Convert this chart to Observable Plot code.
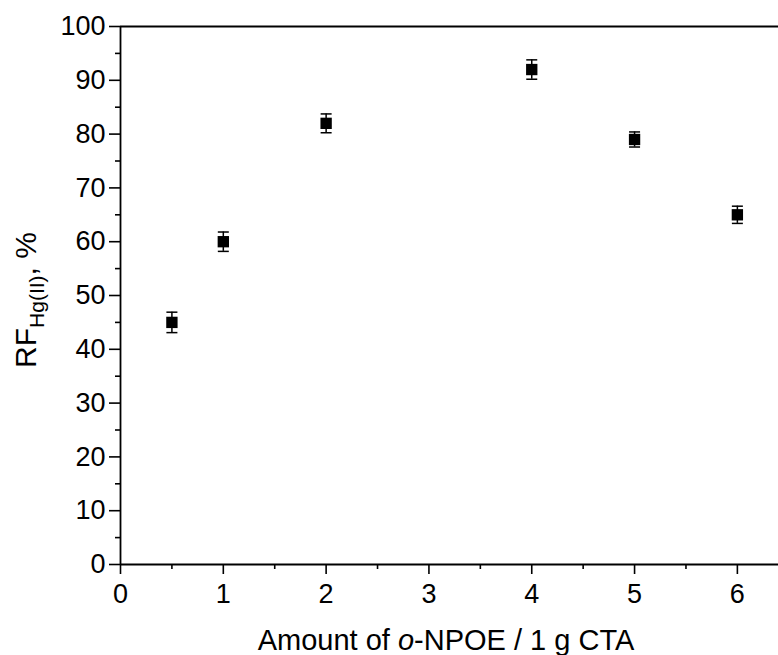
<!DOCTYPE html>
<html>
<head>
<meta charset="utf-8">
<script src="https://cdn.jsdelivr.net/npm/d3@7"></script>
<script src="https://cdn.jsdelivr.net/npm/@observablehq/plot@0.6"></script>
<style>
  html, body { margin: 0; padding: 0; background: white; }
</style>
</head>
<body>
<div id="chart"></div>
<script>
const amounts = [0.5, 1, 2, 4, 5, 6];
const rfValues = [45, 60, 82, 92, 79, 65];
const rfErrors = [1.9, 1.8, 1.75, 1.8, 1.4, 1.6];
const xMajorTicks = [0, 1, 2, 3, 4, 5, 6];
const xMinorTicks = [0.5, 1.5, 2.5, 3.5, 4.5, 5.5];
const yMajorTicks = [0, 10, 20, 30, 40, 50, 60, 70, 80, 90, 100];
const yMinorTicks = [5, 15, 25, 35, 45, 55, 65, 75, 85, 95];

const data = amounts.map((x, i) => ({x, y: rfValues[i], e: rfErrors[i]}));

const capSymbol = {
  draw(context, size) {
    const r = Math.sqrt(size / Math.PI);
    context.moveTo(-r, 0);
    context.lineTo(r, 0);
  }
};

const W = 778, H = 655, ML = 120, MR = 0, MT = 26, MB = 91;

const chart = Plot.plot({
  width: W, height: H,
  marginLeft: ML, marginRight: MR, marginTop: MT, marginBottom: MB,
  x: {domain: [0, 6.4]},
  y: {domain: [0, 100]},
  style: {fontFamily: "'Liberation Sans', Arial, sans-serif", fontSize: "27px", color: "black", background: "white", overflow: "visible"},
  marks: [
    Plot.axisX({ticks: xMajorTicks, tickSize: 10, tickPadding: 9, strokeWidth: 1.6, label: null, tickFormat: d => String(d)}),
    Plot.axisX({ticks: xMinorTicks, tickSize: 5, strokeWidth: 1.6, text: null, label: null}),
    Plot.axisY({ticks: yMajorTicks, tickSize: 11, tickPadding: 4, strokeWidth: 1.6, label: null, tickFormat: d => String(d)}),
    Plot.axisY({ticks: yMinorTicks, tickSize: 5, strokeWidth: 1.6, text: null, label: null}),
    Plot.ruleY([0], {stroke: "black", strokeWidth: 1.8}),
    Plot.ruleY([100], {stroke: "black", strokeWidth: 1.8}),
    Plot.ruleX([0], {stroke: "black", strokeWidth: 1.8}),
    Plot.ruleX(data, {x: "x", y1: d => d.y - d.e, y2: d => d.y + d.e, stroke: "black", strokeWidth: 1.5}),
    Plot.dot(data, {x: "x", y: d => d.y + d.e, symbol: capSymbol, r: 5.5, stroke: "black", strokeWidth: 1.5, fill: "none"}),
    Plot.dot(data, {x: "x", y: d => d.y - d.e, symbol: capSymbol, r: 5.5, stroke: "black", strokeWidth: 1.5, fill: "none"}),
    Plot.dot(data, {x: "x", y: "y", symbol: "square", r: 6.4, fill: "black", stroke: "none"})
  ]
});

const svg = d3.select(chart);

// x-axis title
const xt = svg.append("text")
  .attr("x", 446)
  .attr("y", 650)
  .attr("text-anchor", "middle")
  .attr("font-size", 29)
  .attr("fill", "black");
xt.append("tspan").text("Amount of ");
xt.append("tspan").attr("font-style", "italic").text("o");
xt.append("tspan").text("-NPOE / 1 g CTA");

// y-axis title
const yt = svg.append("text")
  .attr("transform", `translate(36,300) rotate(-90)`)
  .attr("text-anchor", "middle")
  .attr("font-size", 30)
  .attr("fill", "black");
yt.append("tspan").text("RF");
yt.append("tspan").attr("font-size", 21).attr("dy", 8).text("Hg(II)");
yt.append("tspan").attr("dy", -8).text(", %");

document.getElementById("chart").appendChild(chart);
</script>
</body>
</html>
